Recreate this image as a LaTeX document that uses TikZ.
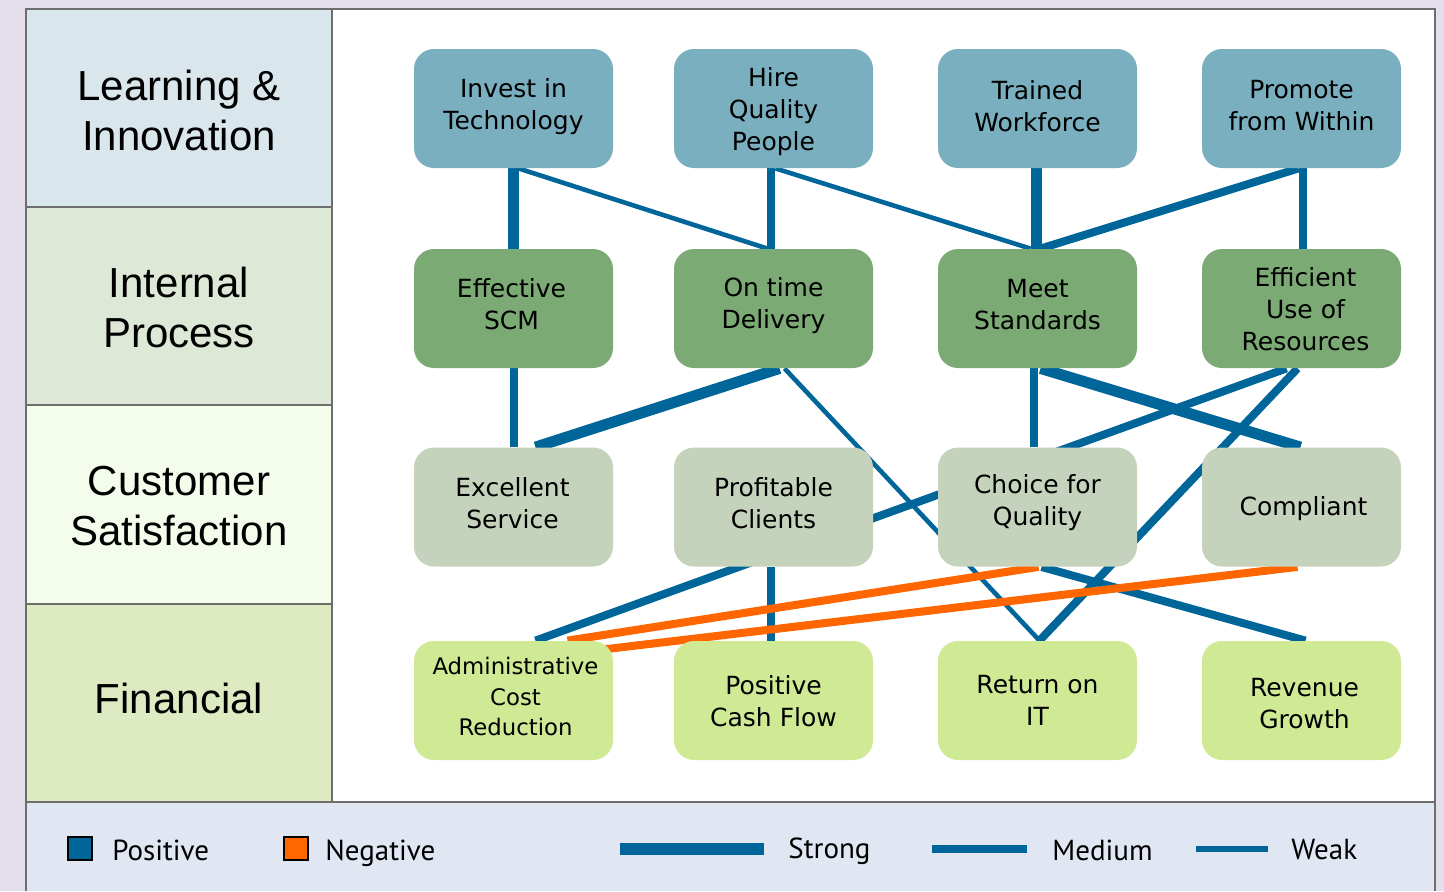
\documentclass[tikz,border=0pt]{standalone}
\usepackage{fontspec}
\setmainfont{DejaVu Sans}
\newfontfamily\lblfont{Liberation Sans}
\newfontfamily\legfont{PT Sans}
\usetikzlibrary{calc,backgrounds}
\pgfdeclarelayer{edges}
\pgfsetlayers{background,edges,main}
\definecolor{bgout}{HTML}{E5DFEC}
\definecolor{legbg}{HTML}{E0E6F2}
\definecolor{pA}{HTML}{D9E6EC}
\definecolor{pB}{HTML}{DDE8D7}
\definecolor{pC}{HTML}{F4FCEC}
\definecolor{pD}{HTML}{DEEBC2}
\definecolor{bA}{HTML}{7AAFBF}
\definecolor{bB}{HTML}{7BAA74}
\definecolor{bC}{HTML}{C6D3BC}
\definecolor{bD}{HTML}{D0E995}
\definecolor{posblue}{HTML}{00669A}
\definecolor{negorange}{HTML}{FF6600}
\definecolor{framegrey}{HTML}{6E6E6E}
\tikzset{
  box/.style={rounded corners=10pt, minimum width=99.5pt, minimum height=59.5pt,
    inner sep=0pt},
  boxtext/.style={inner sep=0pt, align=center, font=\fontsize{12.5}{16}\selectfont},
  rowA/.style={box, fill=bA},
  rowB/.style={box, fill=bB},
  rowC/.style={box, fill=bC},
  rowD/.style={box, fill=bD},
  lbl/.style={align=center, inner sep=0pt, font=\lblfont\fontsize{21}{25}\selectfont},
  legtext/.style={anchor=base west, inner sep=0pt, font=\legfont\fontsize{14.5}{16}\selectfont},
  strong/.style={draw=posblue, line width=5.5pt},
  medium/.style={draw=posblue, line width=4pt},
  weak/.style={draw=posblue, line width=2.3pt},
  negmed/.style={draw=negorange, line width=4pt},
  keysq/.style={draw=black, line width=1pt, minimum width=12pt, minimum height=11.5pt, inner sep=0pt},
  keybar/.style={fill=posblue, inner sep=0pt}
}
\begin{document}
\begin{tikzpicture}[x=0.5pt,y=-0.5pt]
\useasboundingbox (0,0) rectangle (1444,891);
\begin{pgfonlayer}{background}
\fill[bgout] (0,0) rectangle (1444,891);
\fill[white] (332,9) rectangle (1435,802);
\fill[pA] (26,9) rectangle (332,207);
\fill[pB] (26,207) rectangle (332,405);
\fill[pC] (26,405) rectangle (332,604);
\fill[pD] (26,604) rectangle (332,802);
\fill[legbg] (26,802) rectangle (1435,891);
\draw[framegrey, line width=0.6pt] (26,207) -- (332,207) (26,405) -- (332,405) (26,604) -- (332,604);
\draw[framegrey, line width=0.9pt] (332,9) -- (332,802);
\draw[framegrey, line width=1.1pt] (26,891) -- (26,9) -- (1435,9) -- (1435,891);
\draw[framegrey, line width=1.1pt] (26,802) -- (1435,802);
\end{pgfonlayer}

% perspective labels
\node[lbl] (tLI) at (179,110) {Learning \&\\Innovation};
\node[lbl] (tIP) at (179,307) {Internal\\Process};
\node[lbl] (tCS) at (179,506) {Customer\\Satisfaction};
\node[lbl] (tFI) at (179,698) {Financial};

% row 1
\node[rowA] (L1) at (513.5,108.5) {};
\node[rowA] (L2) at (773.5,108.5) {};
\node[rowA] (L3) at (1037.5,108.5) {};
\node[rowA] (L4) at (1301.5,108.5) {};
% row 2
\node[rowB] (I1) at (513.5,308.5) {};
\node[rowB] (I2) at (773.5,308.5) {};
\node[rowB] (I3) at (1037.5,308.5) {};
\node[rowB] (I4) at (1301.5,308.5) {};
% row 3
\node[rowC] (C1) at (513.5,507) {};
\node[rowC] (C2) at (773.5,507) {};
\node[rowC] (C3) at (1037.5,507) {};
\node[rowC] (C4) at (1301.5,507) {};
% row 4
\node[rowD] (F1) at (513.5,700.5) {};
\node[rowD] (F2) at (773.5,700.5) {};
\node[rowD] (F3) at (1037.5,700.5) {};
\node[rowD] (F4) at (1301.5,700.5) {};

% box texts
\node[boxtext] (L1t) at ($(L1)+(0,-2)$) {Invest in\\Technology};
\node[boxtext] (L2t) at ($(L2)+(0,3)$) {Hire\\Quality\\People};
\node[boxtext] (L3t) at ($(L3)+(0,-2.5)$) {Trained\\Workforce};
\node[boxtext] (L4t) at ($(L4)+(0,-2.5)$) {Promote\\from Within};
\node[boxtext] (I1t) at ($(I1)+(-2,-4)$) {Effective\\SCM};
\node[boxtext] (I2t) at ($(I2)+(0,-3)$) {On time\\Delivery};
\node[boxtext] (I3t) at ($(I3)+(0,-4)$) {Meet\\Standards};
\node[boxtext] (I4t) at ($(I4)+(4,1)$) {Efficient\\Use of\\Resources};
\node[boxtext] (C1t) at ($(C1)+(-1,-4)$) {Excellent\\Service};
\node[boxtext] (C2t) at ($(C2)+(0,-4)$) {Profitable\\Clients};
\node[boxtext] (C3t) at ($(C3)+(0,-4)$) {Choice for\\Quality};
\node[boxtext] (C4t) at ($(C4)+(2,2)$) {Compliant};
\node[boxtext, font=\fontsize{11.4}{15.2}\selectfont] (F1t) at ($(F1)+(2,-4)$) {Administrative\\Cost\\Reduction};
\node[boxtext] (F2t) at ($(F2)+(0,1)$) {Positive\\Cash Flow};
\node[boxtext] (F3t) at ($(F3)+(0,0)$) {Return on\\IT};
\node[boxtext] (F4t) at ($(F4)+(3,3)$) {Revenue\\Growth};

\begin{pgfonlayer}{edges}
% learning -> internal
\draw[strong] (L1.south) -- (I1.north);
\draw[weak] ($(L1.south)+(5,0)$) -- ($(I2.north)+(-6,0)$);
\draw[medium] ($(L2.south)+(-3,0)$) -- ($(I2.north)+(-3,0)$);
\draw[weak] ($(L2.south)+(2,0)$) -- ($(I3.north)+(-7,0)$);
\draw[strong] ($(L3.south)+(-1.5,0)$) -- ($(I3.north)+(-1.5,0)$);
\draw[medium] ($(L4.south)+(-3,0)$) -- ($(I3.north)+(3,0)$);
\draw[medium] ($(L4.south)+(1.5,0)$) -- ($(I4.north)+(1.5,0)$);
% internal -> customer / financial
\draw[medium] (I1.south) -- (C1.north);
\draw[strong] ($(I2.south)+(6,0)$) -- ($(C1.north)+(22,0)$);
\draw[weak] ($(I2.south)+(11,0)$) -- ($(F3.north)+(2,0)$);
\draw[medium] ($(I3.south)+(-3.5,0)$) -- ($(C3.north)+(-3.5,0)$);
\draw[strong] ($(I3.south)+(3,0)$) -- ($(C4.north)+(-1,0)$);
\draw[medium] ($(I4.south)+(-15,0)$) -- ($(F1.north)+(22,0)$);
\draw[medium] ($(I4.south)+(-4,0)$) -- ($(F3.north)+(2,0)$);
% customer -> financial
\draw[medium] ($(C2.south)+(-3,0)$) -- ($(F2.north)+(-3,0)$);
\draw[medium] ($(C3.south)+(4,0)$) -- ($(F4.north)+(4,0)$);
\draw[negmed] ($(C3.south)+(1,0)$) -- ($(F1.north)+(54,0)$);
\draw[negmed] ($(C4.south)+(-4,0)$) -- ($(F1.north)+(80,10)$);
\end{pgfonlayer}

% legend
\node[keysq, fill=posblue] (kpos) at (80,848.5) {};
\node[legtext] (tpos) at (112,860) {Positive};
\node[keysq, fill=negorange] (kneg) at (295.5,848.5) {};
\node[legtext] (tneg) at (325,860) {Negative};
\node[keybar, minimum width=72pt, minimum height=6pt] (kstrong) at (692,849) {};
\node[legtext] (tstrong) at (788,858) {Strong};
\node[keybar, minimum width=47.5pt, minimum height=4.2pt] (kmed) at (979.5,849) {};
\node[legtext] (tmed) at (1052,860) {Medium};
\node[keybar, minimum width=36pt, minimum height=2.6pt] (kweak) at (1232,849) {};
\node[legtext] (tweak) at (1291,859) {Weak};
\end{tikzpicture}
\end{document}
